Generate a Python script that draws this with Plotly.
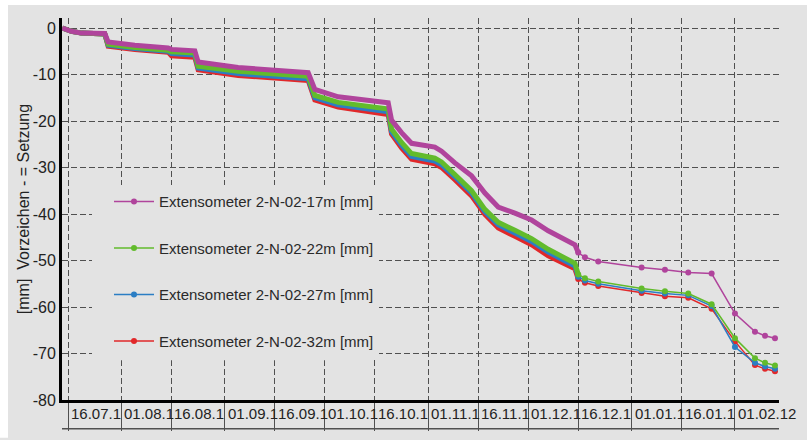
import plotly.graph_objects as go

# ---------------- data ----------------
dates = [
    "2011-07-14 06:00", "2011-07-17", "2011-07-20", "2011-07-27", "2011-07-28",
    "2011-08-05", "2011-08-15", "2011-08-16", "2011-08-23", "2011-08-24",
    "2011-09-05", "2011-09-15", "2011-09-26", "2011-09-28", "2011-10-05",
    "2011-10-20", "2011-10-21", "2011-10-24", "2011-10-27", "2011-11-03",
    "2011-11-05", "2011-11-09", "2011-11-14", "2011-11-18", "2011-11-22",
    "2011-11-27", "2011-12-02", "2011-12-07", "2011-12-11", "2011-12-15",
    "2011-12-16", "2011-12-18", "2011-12-22", "2012-01-04", "2012-01-11",
    "2012-01-18", "2012-01-25", "2012-02-01", "2012-02-07", "2012-02-10",
    "2012-02-13",
]

ext_17m = [0.0, -0.7, -1.1, -1.2, -3.0, -3.7, -4.3, -4.6, -4.9, -7.3,
           -8.5, -9.1, -9.6, -13.2, -14.8, -16.1, -19.8, -22.5, -24.8, -25.6,
           -26.5, -29.0, -31.8, -35.5, -38.5, -39.8, -41.3, -43.6, -45.0, -46.6,
           -48.3, -49.3, -50.2, -51.5, -52.0, -52.6, -52.8, -61.4, -65.3, -66.2,
           -66.7]
ext_22m = [0.0, -0.7, -1.1, -1.3, -3.5, -4.2, -4.8, -5.1, -5.4, -8.2,
           -9.3, -9.9, -10.4, -14.5, -16.0, -17.4, -21.7, -24.6, -27.0, -28.0,
           -28.8, -31.5, -35.0, -39.0, -41.8, -43.5, -45.3, -47.6, -49.0, -50.6,
           -53.0, -53.8, -54.5, -56.0, -56.6, -57.1, -59.4, -66.7, -71.0, -72.0,
           -72.6]
ext_27m = [0.0, -0.7, -1.1, -1.3, -3.7, -4.4, -5.0, -5.5, -5.8, -8.6,
           -9.8, -10.4, -10.9, -15.0, -16.5, -18.0, -22.3, -25.2, -27.6, -28.6,
           -29.4, -32.0, -35.5, -39.5, -42.3, -44.1, -45.9, -48.2, -49.7, -51.2,
           -53.5, -54.3, -55.0, -56.5, -57.1, -57.5, -59.8, -68.6, -72.0, -72.8,
           -73.3]
ext_32m = [0.0, -0.7, -1.1, -1.3, -3.9, -4.6, -5.2, -6.0, -6.3, -9.0,
           -10.2, -10.8, -11.3, -15.5, -17.0, -18.6, -22.8, -25.8, -28.2, -29.2,
           -30.0, -32.6, -36.1, -40.1, -43.0, -44.8, -46.6, -49.0, -50.4, -51.8,
           -54.0, -54.8, -55.5, -57.0, -57.7, -58.0, -60.4, -67.4, -72.5, -73.3,
           -73.8]

series_names = [
    "Extensometer 2-N-02-17m [mm]",
    "Extensometer 2-N-02-22m [mm]",
    "Extensometer 2-N-02-27m [mm]",
    "Extensometer 2-N-02-32m [mm]",
]
series_values = [ext_17m, ext_22m, ext_27m, ext_32m]

tick_dates = ["2011-07-16", "2011-08-01", "2011-08-16", "2011-09-01", "2011-09-16",
              "2011-10-01", "2011-10-16", "2011-11-01", "2011-11-16", "2011-12-01",
              "2011-12-16", "2012-01-01", "2012-01-16", "2012-02-01"]
tick_labels = ["16.07.1", "01.08.1", "16.08.1", "01.09.1", "16.09.1", "01.10.1",
               "16.10.1", "01.11.1", "16.11.1", "01.12.1", "16.12.1", "01.01.1",
               "16.01.1", "01.02.12"]
y_ticks = [0, -10, -20, -30, -40, -50, -60, -70, -80]
y_tick_labels = ["0", "-10", "-20", "-30", "-40", "-50", "-60", "-70", "-80"]

# ---------------- style ----------------
colors = ["#b0449c", "#62bb2c", "#2b7ec4", "#e1282a"]
BG = "#e3e3e3"
GRID = "#505050"
FONT = "Liberation Sans, Arial, sans-serif"
SPLIT = 30  # index where frequent readings change to sparse readings

fig = go.Figure()

# dense part (drawn red first so that magenta/green sit on top)
for i in [3, 2, 1, 0]:
    fig.add_trace(go.Scatter(
        x=dates[:SPLIT + 1], y=series_values[i][:SPLIT + 1],
        mode="lines", line=dict(color=colors[i], width=5),
        showlegend=False, hoverinfo="skip",
    ))

# sparse part with markers (carries legend entries)
for i in [3, 2, 1, 0]:
    fig.add_trace(go.Scatter(
        x=dates[SPLIT:], y=series_values[i][SPLIT:],
        mode="lines+markers", name=series_names[i],
        line=dict(color=colors[i], width=1.5),
        marker=dict(color=colors[i], size=6),
        legendgroup=f"g{i}", legendrank=i + 1,
    ))

# x labels in cells (left aligned after each separator)
for d, t in zip(tick_dates, tick_labels):
    fig.add_annotation(
        x=d, xref="x", y=0, yref="paper", text=t, showarrow=False,
        xanchor="left", yanchor="top", xshift=1, yshift=-3,
        font=dict(family=FONT, size=15, color="#222222"),
    )

# bottom line of the label cells
fig.add_shape(type="line", xref="paper", yref="paper", x0=0, x1=1,
              y0=-29 / 384, y1=-29 / 384, line=dict(color=GRID, width=1.5))

# legend panel background (hides the grid behind the legend)
fig.add_shape(type="rect", xref="paper", yref="paper", layer="above",
              x0=30 / 717, x1=310 / 717, y0=40 / 384, y1=216 / 384,
              fillcolor=BG, line=dict(width=0))

# white frame strips at top and left of the picture
fig.add_shape(type="rect", xref="paper", yref="paper", x0=-62 / 717, x1=-54 / 717,
              y0=-38 / 384, y1=402 / 384, fillcolor="white", line=dict(width=0))
fig.add_shape(type="rect", xref="paper", yref="paper", x0=-62 / 717, x1=745 / 717,
              y0=397 / 384, y1=402 / 384, fillcolor="white", line=dict(width=0))

fig.update_layout(
    width=807, height=440,
    margin=dict(l=62, r=28, t=18, b=38, pad=0),
    paper_bgcolor=BG, plot_bgcolor=BG,
    font=dict(family=FONT, size=15, color="#222222"),
    showlegend=True,
    legend=dict(
        x=47 / 717, y=216 / 384, xanchor="left", yanchor="top",
        bgcolor=BG, borderwidth=0, traceorder="grouped", tracegroupgap=24,
        itemwidth=40,
        font=dict(family=FONT, size=15, color="#2a2a2a"),
    ),
    xaxis=dict(
        type="date", range=["2011-07-14 04:00", "2012-02-14 05:00"],
        tickvals=tick_dates, showticklabels=False,
        ticks="outside", ticklen=28, tickwidth=1, tickcolor=GRID,
        showgrid=True, gridcolor=GRID, gridwidth=1, griddash="6px,3px",
        showline=True, linecolor="black", linewidth=3, zeroline=False,
        fixedrange=True,
    ),
    yaxis=dict(
        range=[-80, 2.15], tickvals=y_ticks, ticktext=y_tick_labels, ticks="",
        tickfont=dict(family=FONT, size=16, color="#222222"),
        showgrid=True, gridcolor=GRID, gridwidth=1, griddash="6px,3px",
        showline=True, linecolor="black", linewidth=3, zeroline=False,
        title=dict(text="[mm]  Vorzeichen - = Setzung", standoff=0,
                   font=dict(family=FONT, size=16, color="#222222")),
        fixedrange=True,
    ),
)

fig.write_html("out.html")
